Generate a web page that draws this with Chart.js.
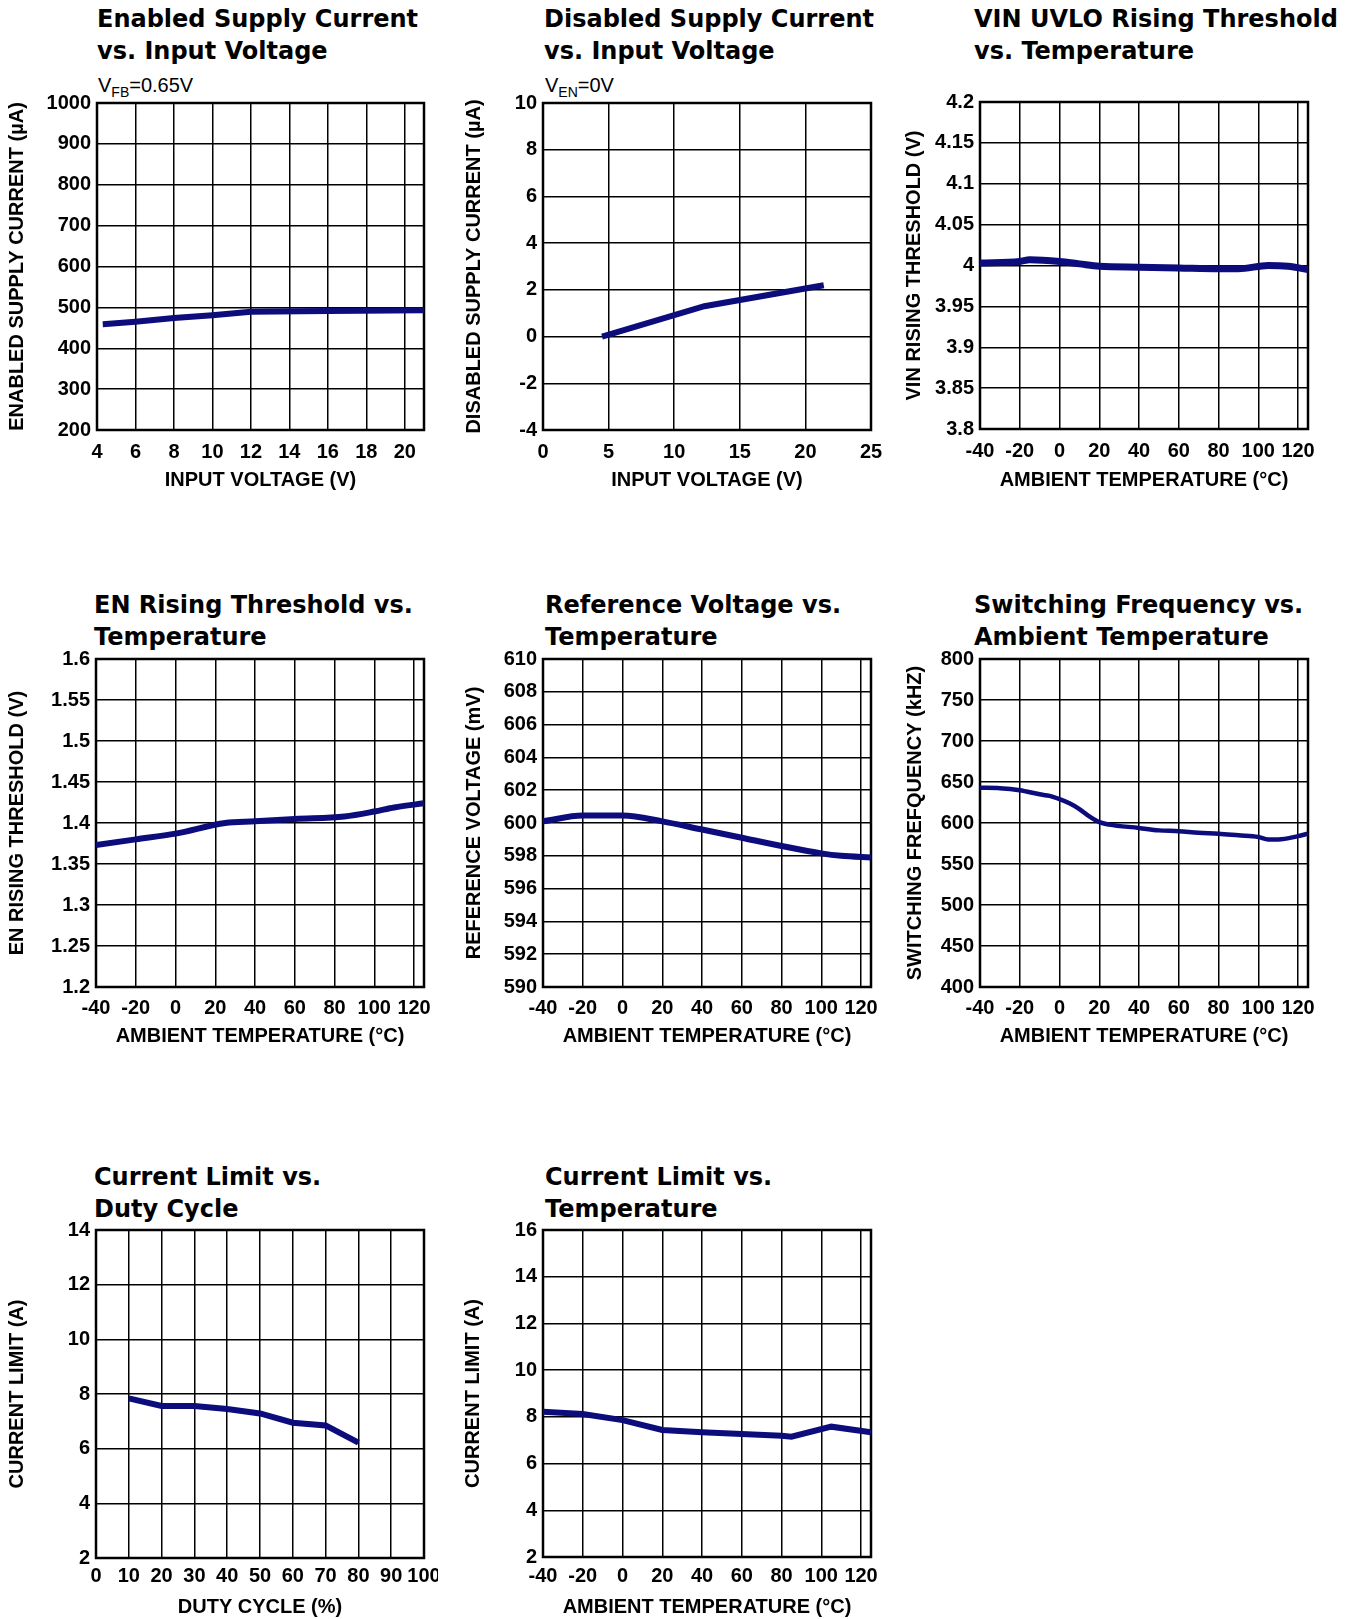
<!DOCTYPE html>
<html>
<head>
<meta charset="utf-8">
<script src="https://cdn.jsdelivr.net/npm/chart.js@4.4.0/dist/chart.umd.min.js"></script>
<style>
body { margin: 0; background: #fff; width: 1365px; height: 1619px; position: relative; overflow: hidden; }
.t { position: absolute; font-family: "DejaVu Sans", sans-serif; font-weight: bold; font-size: 24px; line-height: 32px; color: #000; white-space: nowrap; }
.s { position: absolute; font-family: "Liberation Sans", Arial, sans-serif; font-size: 20px; line-height: 24px; color: #000; white-space: nowrap; }
.s span { font-size: 14px; position: relative; top: 5px; }
canvas { position: absolute; }
</style>
</head>
<body>
<div class="t" style="left:97px;top:3px">Enabled Supply Current<br>vs. Input Voltage</div>
<div class="t" style="left:544px;top:3px">Disabled Supply Current<br>vs. Input Voltage</div>
<div class="t" style="left:974px;top:3px">VIN UVLO Rising Threshold<br>vs. Temperature</div>
<div class="t" style="left:94px;top:589px">EN Rising Threshold vs.<br>Temperature</div>
<div class="t" style="left:545px;top:589px">Reference Voltage vs.<br>Temperature</div>
<div class="t" style="left:974px;top:589px">Switching Frequency vs.<br>Ambient Temperature</div>
<div class="t" style="left:94px;top:1161px">Current Limit vs.<br>Duty Cycle</div>
<div class="t" style="left:545px;top:1161px">Current Limit vs.<br>Temperature</div>
<div class="s" style="left:98px;top:73px">V<span>FB</span>=0.65V</div>
<div class="s" style="left:545px;top:73px">V<span>EN</span>=0V</div>
<script>
// data
const vinEn = [4.3, 6, 8, 10, 12, 16, 21];
const iqEn = [459, 465, 474, 481, 489, 491, 493];

const vinDis = [4.5, 12.3, 21.4];
const iqDis = [0, 1.3, 2.2];

const tUvlo = [-40, -20, -15, 0, 10, 20, 40, 60, 80, 90, 105, 115, 125];
const vUvlo = [4.003, 4.005, 4.007, 4.005, 4.002, 3.999, 3.998, 3.997, 3.996, 3.996, 4.000, 3.999, 3.995];

const tEn = [-40, -20, 0, 25, 40, 60, 85, 100, 110, 125];
const vEn = [1.373, 1.380, 1.387, 1.400, 1.402, 1.405, 1.408, 1.414, 1.419, 1.424];

const tRef = [-40, -20, 0, 20, 40, 60, 80, 100, 110, 125];
const vRef = [600.1, 600.45, 600.45, 600.1, 599.6, 599.1, 598.6, 598.15, 598.0, 597.9];

const tFsw = [-40, -30, -20, -10, -5, 0, 5, 10, 15, 20, 25, 40, 50, 60, 70, 80, 90, 100, 105, 110, 120, 125];
const fsw = [643, 642.5, 640, 635, 633, 629, 624, 617, 608, 601, 598, 594, 591, 590, 588, 587, 585, 583, 580, 580, 584, 587];

const duty = [10, 20, 30, 40, 50, 60, 70, 80];
const ilimDuty = [7.84, 7.56, 7.56, 7.45, 7.29, 6.95, 6.85, 6.22];

const tIlim = [-40, -20, 0, 20, 40, 60, 80, 85, 105, 125];
const ilimTemp = [8.22, 8.12, 7.86, 7.44, 7.34, 7.27, 7.19, 7.15, 7.58, 7.34];

// x tick values
const vinTicks = [4, 6, 8, 10, 12, 14, 16, 18, 20];
const vinTicks2 = [0, 5, 10, 15, 20, 25];
const tempTicks = [-40, -20, 0, 20, 40, 60, 80, 100, 120];
const dutyTicks = [0, 10, 20, 30, 40, 50, 60, 70, 80, 90, 100];

const lineColor = '#0c0c7c';
Chart.defaults.font.family = '"Liberation Sans", Arial, sans-serif';
Chart.defaults.font.size = 20;
Chart.defaults.font.weight = 'bold';
Chart.defaults.color = '#000';

function pts(xs, ys) {
    return xs.map((x, i) => ({ x: x, y: ys[i] }));
}
const fmt = v => String(Math.round(v * 1000) / 1000);

// plot frame
const frame = {
    id: 'frame',
    beforeDatasetsDraw(chart) {
        const a = chart.chartArea, c = chart.ctx;
        c.save();
        c.strokeStyle = '#000';
        c.lineWidth = 2.5;
        c.strokeRect(a.left, a.top, a.right - a.left, a.bottom - a.top);
        c.restore();
    }
};

function makeChart(o) {
    const top = 14, right = 14;
    const left = o.tcx - 12;
    const yw = o.pl - left;
    const xh = o.tcy + 12 - o.pb;
    const cv = document.createElement('canvas');
    cv.width = yw + (o.pr - o.pl) + right;
    cv.height = top + (o.pb - o.pt) + xh;
    cv.style.left = left + 'px';
    cv.style.top = (o.pt - top) + 'px';
    document.body.appendChild(cv);
    new Chart(cv, {
        type: 'line',
        data: {
            datasets: [{
                data: pts(o.xs, o.ys),
                borderColor: lineColor,
                borderWidth: o.lw,
                pointRadius: 0,
                cubicInterpolationMode: o.smooth ? 'monotone' : 'default',
                tension: 0,
                fill: false
            }]
        },
        options: {
            responsive: false,
            animation: false,
            layout: { padding: { left: 0, top: top, right: right, bottom: 0 } },
            plugins: { legend: { display: false }, tooltip: { enabled: false } },
            scales: {
                x: {
                    type: 'linear',
                    min: o.xmin,
                    max: o.xmax,
                    ticks: { autoSkip: false, maxRotation: 0, minRotation: 0, padding: o.tkp },
                    grid: { color: '#000', lineWidth: 1.5, drawTicks: false },
                    border: { display: false },
                    title: { display: true, text: o.xtitle, padding: 0 },
                    afterBuildTicks: s => { s.ticks = o.xticks.map(v => ({ value: v })); },
                    afterFit: s => { s.height = xh; s.paddingLeft = 0; s.paddingRight = 0; }
                },
                y: {
                    min: o.ymin,
                    max: o.ymax,
                    ticks: { stepSize: o.ystep, padding: 6, callback: fmt },
                    grid: { color: '#000', lineWidth: 1.5, drawTicks: false },
                    border: { display: false },
                    title: { display: true, text: o.ytitle, padding: 0 },
                    afterFit: s => { s.width = yw; s.paddingTop = 0; s.paddingBottom = 0; }
                }
            }
        },
        plugins: [frame]
    });
}

makeChart({ pl: 97, pt: 103, pr: 424, pb: 430, tcx: 17, tcy: 480, tkp: 10,
    xs: vinEn, ys: iqEn, lw: 6, smooth: false,
    xmin: 4, xmax: 21, xticks: vinTicks,
    ymin: 200, ymax: 1000, ystep: 100,
    xtitle: 'INPUT VOLTAGE (V)', ytitle: 'ENABLED SUPPLY CURRENT (µA)' });

makeChart({ pl: 543, pt: 103, pr: 871, pb: 430, tcx: 474, tcy: 480, tkp: 10,
    xs: vinDis, ys: iqDis, lw: 6, smooth: false,
    xmin: 0, xmax: 25, xticks: vinTicks2,
    ymin: -4, ymax: 10, ystep: 2,
    xtitle: 'INPUT VOLTAGE (V)', ytitle: 'DISABLED SUPPLY CURRENT (µA)' });

makeChart({ pl: 980, pt: 102, pr: 1308, pb: 429, tcx: 914, tcy: 480, tkp: 10,
    xs: tUvlo, ys: vUvlo, lw: 7, smooth: true,
    xmin: -40, xmax: 125, xticks: tempTicks,
    ymin: 3.8, ymax: 4.2, ystep: 0.05,
    xtitle: 'AMBIENT TEMPERATURE (°C)', ytitle: 'VIN RISING THRESHOLD (V)' });

makeChart({ pl: 96, pt: 659, pr: 424, pb: 987, tcx: 17, tcy: 1036, tkp: 9,
    xs: tEn, ys: vEn, lw: 6, smooth: true,
    xmin: -40, xmax: 125, xticks: tempTicks,
    ymin: 1.2, ymax: 1.6, ystep: 0.05,
    xtitle: 'AMBIENT TEMPERATURE (°C)', ytitle: 'EN RISING THRESHOLD (V)' });

makeChart({ pl: 543, pt: 659, pr: 871, pb: 987, tcx: 474, tcy: 1036, tkp: 9,
    xs: tRef, ys: vRef, lw: 6, smooth: true,
    xmin: -40, xmax: 125, xticks: tempTicks,
    ymin: 590, ymax: 610, ystep: 2,
    xtitle: 'AMBIENT TEMPERATURE (°C)', ytitle: 'REFERENCE VOLTAGE (mV)' });

makeChart({ pl: 980, pt: 659, pr: 1308, pb: 987, tcx: 915, tcy: 1036, tkp: 9,
    xs: tFsw, ys: fsw, lw: 4.5, smooth: true,
    xmin: -40, xmax: 125, xticks: tempTicks,
    ymin: 400, ymax: 800, ystep: 50,
    xtitle: 'AMBIENT TEMPERATURE (°C)', ytitle: 'SWITCHING FREFQUENCY (kHZ)' });

makeChart({ pl: 96, pt: 1230, pr: 424, pb: 1558, tcx: 17, tcy: 1607, tkp: 6,
    xs: duty, ys: ilimDuty, lw: 6, smooth: false,
    xmin: 0, xmax: 100, xticks: dutyTicks,
    ymin: 2, ymax: 14, ystep: 2,
    xtitle: 'DUTY CYCLE (%)', ytitle: 'CURRENT LIMIT (A)' });

makeChart({ pl: 543, pt: 1230, pr: 871, pb: 1557, tcx: 473, tcy: 1607, tkp: 7,
    xs: tIlim, ys: ilimTemp, lw: 6, smooth: false,
    xmin: -40, xmax: 125, xticks: tempTicks,
    ymin: 2, ymax: 16, ystep: 2,
    xtitle: 'AMBIENT TEMPERATURE (°C)', ytitle: 'CURRENT LIMIT (A)' });
</script>
</body>
</html>
